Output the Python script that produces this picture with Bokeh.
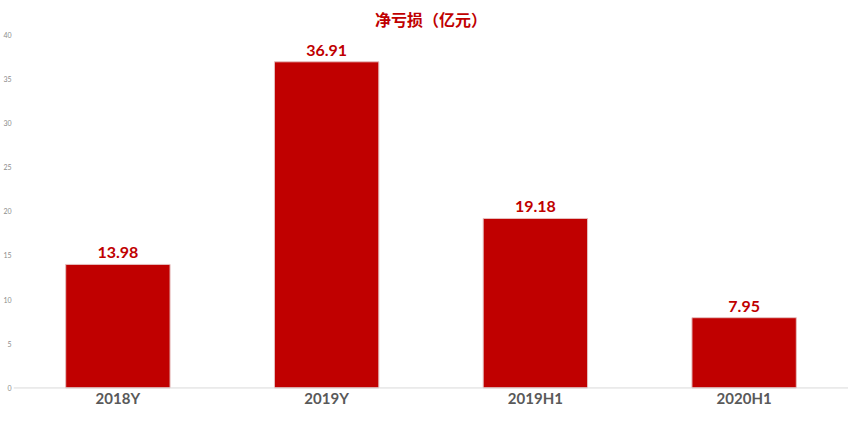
from bokeh.plotting import figure
from bokeh.models import ColumnDataSource, Range1d, FactorRange, FixedTicker, Span
from bokeh.core.properties import value
from bokeh.embed import file_html
from bokeh.resources import INLINE

categories = ["2018Y", "2019Y", "2019H1", "2020H1"]
net_loss = [13.98, 36.91, 19.18, 7.95]
labels = ["13.98", "36.91", "19.18", "7.95"]
y_ticks = [0, 5, 10, 15, 20, 25, 30, 35, 40]

RED = "#C00000"

src = ColumnDataSource(dict(cat=categories, val=net_loss, lab=labels,
                            base=[0] * len(categories)))

p = figure(width=848, height=406, x_range=FactorRange(*categories),
           y_range=Range1d(-2.1, 40), output_backend="svg", toolbar_location=None,
           x_axis_location=None, title="净亏损（亿元）")
p.min_border = 0
p.min_border_left = 0
p.min_border_right = 0
p.min_border_top = 0
p.min_border_bottom = 0
p.outline_line_color = None
p.background_fill_color = "white"
p.border_fill_color = "white"

p.title.align = "center"
p.title.text_color = RED
p.title.text_font = "Noto Sans CJK SC"
p.title.text_font_size = "16px"
p.title.text_font_style = "bold"
p.title.offset = 0
p.title.standoff = 8

p.add_layout(Span(location=0, dimension="width", line_color="#d9d9d9", line_width=1))

p.vbar(x="cat", top="val", width=0.5, source=src, fill_color=RED,
       line_color="#e6c0c0", line_width=1)
p.text(x="cat", y="val", text="lab", source=src, text_align="center",
       text_baseline="bottom", y_offset=-6, text_color=RED,
       text_font=value("Lato"), text_font_size="16px", text_font_style="bold")
p.text(x="cat", y="base", text="cat", source=src, text_align="center",
       text_baseline="middle", y_offset=10, text_color="#595959",
       text_font=value("Lato"), text_font_size="15px", text_font_style="bold")

p.xgrid.grid_line_color = None
p.ygrid.grid_line_color = None

ya = p.yaxis[0]
ya.ticker = FixedTicker(ticks=y_ticks)
ya.axis_line_color = None
ya.major_tick_line_color = None
ya.minor_tick_line_color = None
ya.major_tick_out = 0
ya.major_label_standoff = 2
ya.major_label_text_font = "Lato"
ya.major_label_text_font_size = "7px"
ya.major_label_text_color = "#8c8c8c"

open("out.html", "w").write(file_html(p, INLINE))
